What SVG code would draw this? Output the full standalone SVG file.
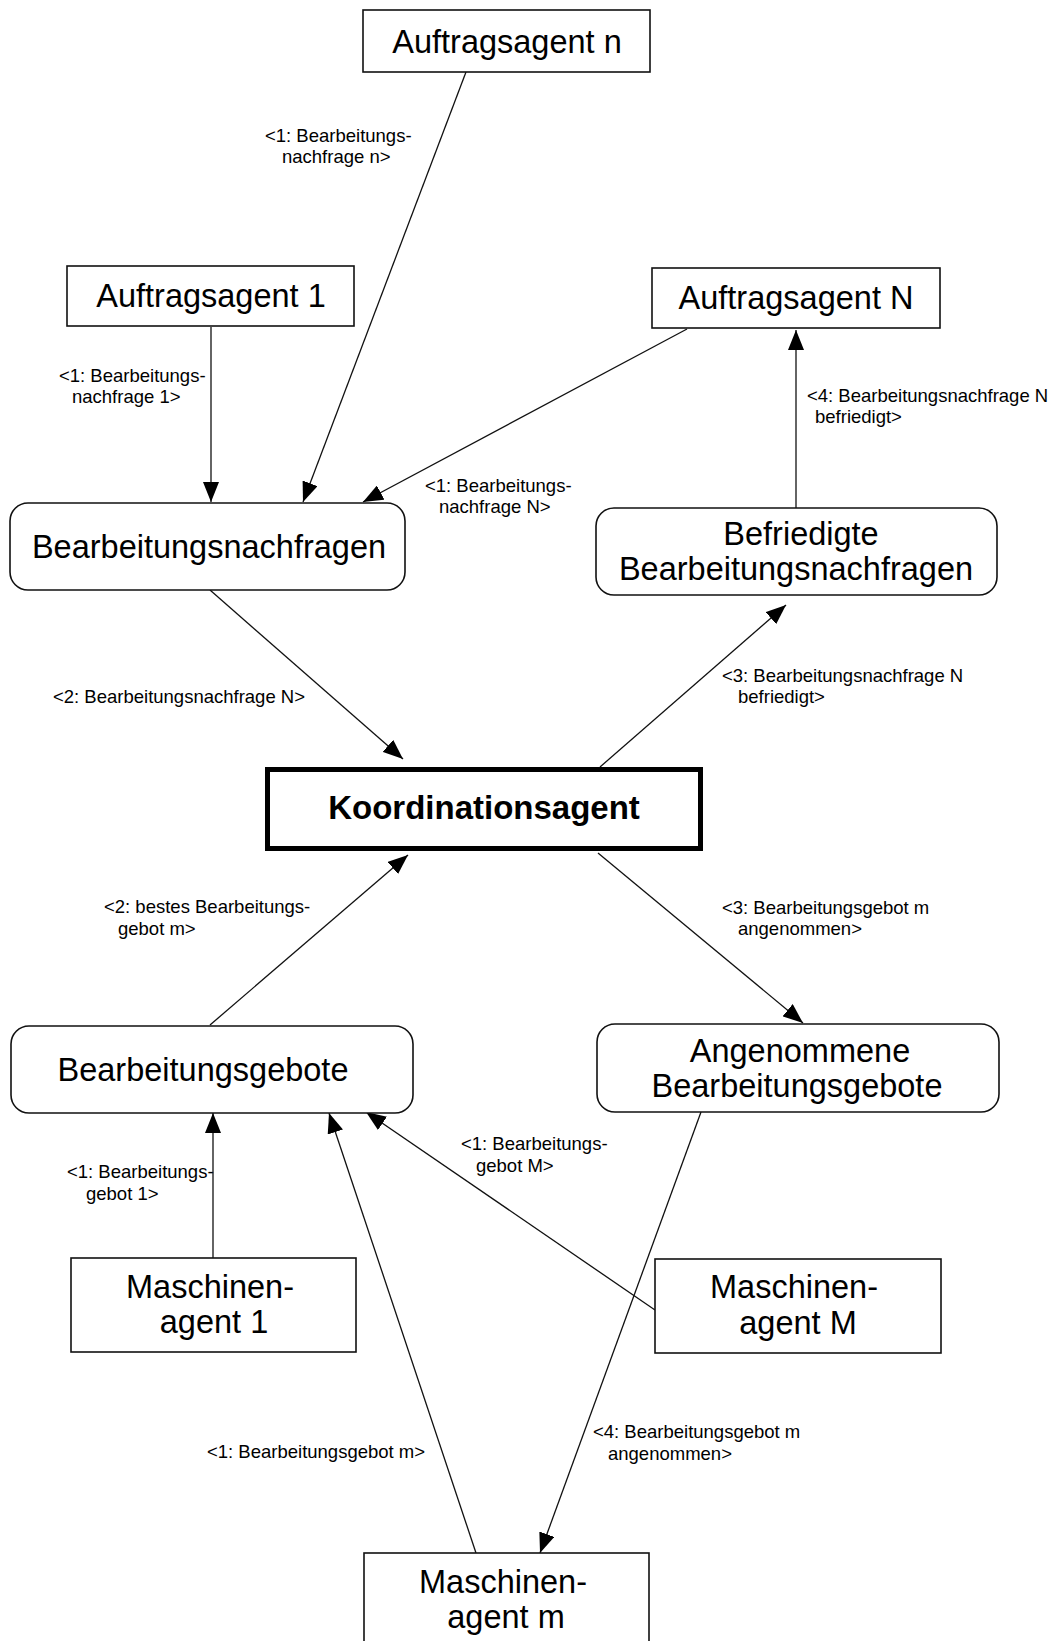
<svg xmlns="http://www.w3.org/2000/svg" width="1055" height="1641" viewBox="0 0 1055 1641">
<defs>
<style>
.box{fill:#fff;stroke:#111;stroke-width:1.6}
.kbox{fill:#fff;stroke:#000;stroke-width:5}
.nt{font-family:"Liberation Sans",Arial,sans-serif;font-size:32.5px;fill:#000;text-anchor:middle}
.kt{font-family:"Liberation Sans",Arial,sans-serif;font-size:33px;font-weight:bold;fill:#000;text-anchor:middle}
.lb{font-family:"Liberation Sans",Arial,sans-serif;font-size:18.5px;fill:#000}
.c{stroke:#111;stroke-width:1.3;fill:none;marker-end:url(#ah)}
</style>
<marker id="ah" viewBox="0 0 20 16" markerWidth="20" markerHeight="16" refX="20" refY="8" orient="auto" markerUnits="userSpaceOnUse">
<path d="M0,0 L20,8 L0,16 z" fill="#000"/>
</marker>
</defs>
<rect width="1055" height="1641" fill="#fff"/>

<g id="connectors">
<line class="c" x1="466" y1="72" x2="303" y2="502"/>
<line class="c" x1="211" y1="327" x2="211" y2="502"/>
<line class="c" x1="687" y1="329" x2="363" y2="502"/>
<line class="c" x1="796" y1="508" x2="796" y2="330"/>
<line class="c" x1="210" y1="590" x2="403" y2="759"/>
<line class="c" x1="600" y1="767" x2="786" y2="605"/>
<line class="c" x1="210" y1="1025" x2="408" y2="855"/>
<line class="c" x1="598" y1="853" x2="803" y2="1023"/>
<line class="c" x1="213" y1="1258" x2="213" y2="1113"/>
<line class="c" x1="476" y1="1553" x2="329" y2="1113"/>
<line class="c" x1="655" y1="1310" x2="366" y2="1112"/>
<line class="c" x1="701" y1="1112" x2="540" y2="1553"/>
</g>

<g id="labels">
<text class="lb" x="265" y="142">&lt;1: Bearbeitungs-</text>
<text class="lb" x="282" y="163">nachfrage n&gt;</text>
<text class="lb" x="59" y="382">&lt;1: Bearbeitungs-</text>
<text class="lb" x="72" y="403">nachfrage 1&gt;</text>
<text class="lb" x="807" y="402">&lt;4: Bearbeitungsnachfrage N</text>
<text class="lb" x="815" y="423">befriedigt&gt;</text>
<text class="lb" x="425" y="492">&lt;1: Bearbeitungs-</text>
<text class="lb" x="439" y="513">nachfrage N&gt;</text>
<text class="lb" x="53" y="703">&lt;2: Bearbeitungsnachfrage N&gt;</text>
<text class="lb" x="722" y="682">&lt;3: Bearbeitungsnachfrage N</text>
<text class="lb" x="738" y="703">befriedigt&gt;</text>
<text class="lb" x="104" y="913">&lt;2: bestes Bearbeitungs-</text>
<text class="lb" x="118" y="935">gebot m&gt;</text>
<text class="lb" x="722" y="914">&lt;3: Bearbeitungsgebot m</text>
<text class="lb" x="738" y="935">angenommen&gt;</text>
<text class="lb" x="67" y="1178">&lt;1: Bearbeitungs-</text>
<text class="lb" x="86" y="1200">gebot 1&gt;</text>
<text class="lb" x="461" y="1150">&lt;1: Bearbeitungs-</text>
<text class="lb" x="476" y="1172">gebot M&gt;</text>
<text class="lb" x="207" y="1458">&lt;1: Bearbeitungsgebot m&gt;</text>
<text class="lb" x="593" y="1438">&lt;4: Bearbeitungsgebot m</text>
<text class="lb" x="608" y="1460">angenommen&gt;</text>
</g>

<g id="auftragsagent-n">
<rect class="box" x="363" y="10" width="287" height="62"/>
<text class="nt" x="507" y="53">Auftragsagent n</text>
</g>
<g id="auftragsagent-1">
<rect class="box" x="67" y="266" width="287" height="60"/>
<text class="nt" x="211" y="307">Auftragsagent 1</text>
</g>
<g id="auftragsagent-N">
<rect class="box" x="652" y="268" width="288" height="60"/>
<text class="nt" x="796" y="309">Auftragsagent N</text>
</g>
<g id="bearbeitungsnachfragen">
<rect class="box" x="10" y="503" width="395" height="87" rx="18"/>
<text class="nt" x="209" y="558">Bearbeitungsnachfragen</text>
</g>
<g id="befriedigte">
<rect class="box" x="596" y="508" width="401" height="87" rx="18"/>
<text class="nt" x="801" y="545">Befriedigte</text>
<text class="nt" x="796" y="580">Bearbeitungsnachfragen</text>
</g>
<g id="koordinationsagent">
<rect class="kbox" x="267.5" y="769.5" width="433" height="79"/>
<text class="kt" x="484" y="819">Koordinationsagent</text>
</g>
<g id="bearbeitungsgebote">
<rect class="box" x="11" y="1026" width="402" height="87" rx="18"/>
<text class="nt" x="203" y="1081">Bearbeitungsgebote</text>
</g>
<g id="angenommene">
<rect class="box" x="597" y="1024" width="402" height="88" rx="18"/>
<text class="nt" x="800" y="1062">Angenommene</text>
<text class="nt" x="797" y="1097">Bearbeitungsgebote</text>
</g>
<g id="maschinenagent-1">
<rect class="box" x="71" y="1258" width="285" height="94"/>
<text class="nt" x="210" y="1298">Maschinen-</text>
<text class="nt" x="214" y="1333">agent 1</text>
</g>
<g id="maschinenagent-M">
<rect class="box" x="655" y="1259" width="286" height="94"/>
<text class="nt" x="794" y="1298">Maschinen-</text>
<text class="nt" x="798" y="1334">agent M</text>
</g>
<g id="maschinenagent-m">
<rect class="box" x="364" y="1553" width="285" height="100"/>
<text class="nt" x="503" y="1593">Maschinen-</text>
<text class="nt" x="506" y="1628">agent m</text>
</g>
</svg>
